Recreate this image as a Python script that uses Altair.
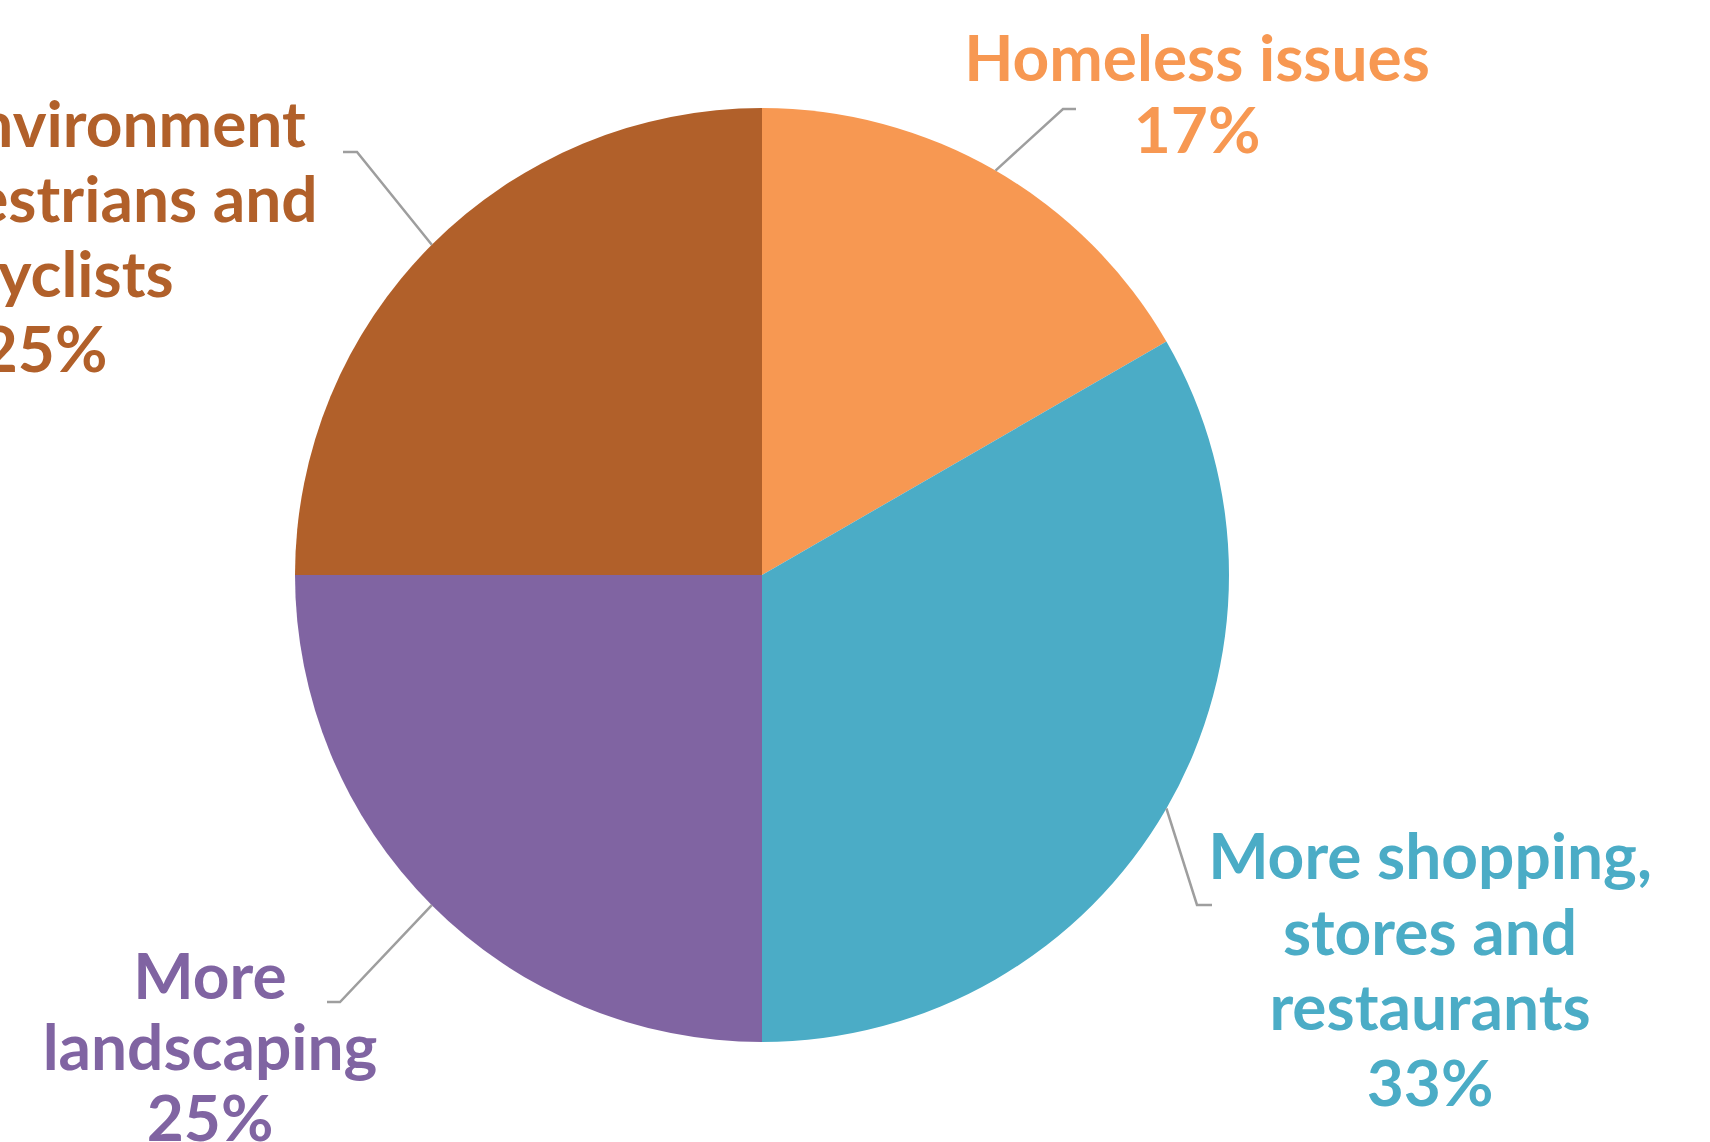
import math
import altair as alt
import pandas as pd

# ---- data ----
categories = [
    "Homeless issues",
    "More shopping, stores and restaurants",
    "More landscaping",
    "Safer environment for pedestrians and bicyclists",
]
values = [2, 4, 3, 3]
label_lines = [
    ["Homeless issues"],
    ["More shopping,", "stores and", "restaurants"],
    ["More", "landscaping"],
    ["Safer environment", "for pedestrians and", "bicyclists"],
]

# ---- styles / layout ----
colors = ["#F79852", "#4BACC6", "#8064A2", "#B1602A"]
W, H = 1710, 1142
CX, CY, R = 762, 575, 467
label_x = [1197, 1430, 210, 44]
label_y0 = [81, 879, 999, 147]
label_lh = [72, 75.7, 71, 75]
elbows = [(1063, 109), (1197, 905), (340, 1002), (357, 152)]
ends = [(1076, 109), (1212, 905), (327, 1002), (343, 152)]
FONT = "Lato"
FSIZE = 64
LEADER = "#9E9E9E"

total = sum(values)
pie_df = pd.DataFrame({"category": categories, "value": values, "idx": range(len(values))})

# text rows
rows = []
for i, (cat, v) in enumerate(zip(categories, values)):
    lines = label_lines[i] + [f"{round(v / total * 100)}%"]
    for j, t in enumerate(lines):
        rows.append({"category": cat, "text": t, "x": label_x[i], "y": label_y0[i] + j * label_lh[i]})
text_df = pd.DataFrame(rows)

# leader lines: start at mid-angle of each slice on the rim
lrows = []
cum = 0
for i, (cat, v) in enumerate(zip(categories, values)):
    a = (cum + v / 2) / total * 2 * math.pi
    cum += v
    sx, sy = CX + R * math.sin(a), CY - R * math.cos(a)
    pts = [(sx, sy), elbows[i], ends[i]]
    for k, (px, py) in enumerate(pts):
        lrows.append({"category": cat, "pt": k, "x": px, "y": py})
line_df = pd.DataFrame(lrows)

color_scale = alt.Scale(domain=categories, range=colors)

pie = alt.Chart(pie_df).mark_arc(outerRadius=R).encode(
    theta=alt.Theta("value:Q", stack=True),
    color=alt.Color("category:N", scale=color_scale, legend=None),
    order=alt.Order("idx:Q"),
    x=alt.value(CX),
    y=alt.value(CY),
)

leaders = alt.Chart(line_df).mark_line(color=LEADER, strokeWidth=2.5).encode(
    x=alt.X("x:Q", scale=None, axis=None),
    y=alt.Y("y:Q", scale=None, axis=None),
    detail="category:N",
    order="pt:Q",
)

labels = alt.Chart(text_df).mark_text(
    font=FONT, fontWeight="bold", fontSize=FSIZE, align="center", baseline="alphabetic"
).encode(
    x=alt.X("x:Q", scale=None, axis=None),
    y=alt.Y("y:Q", scale=None, axis=None),
    text="text:N",
    color=alt.Color("category:N", scale=color_scale, legend=None),
)

chart = alt.layer(pie, leaders, labels).properties(
    width=W, height=H, autosize=alt.AutoSizeParams(type="none"), padding=0, background="white"
).configure_view(stroke=None)

chart.save("out.html", embed_options={"renderer": "svg", "actions": False})
